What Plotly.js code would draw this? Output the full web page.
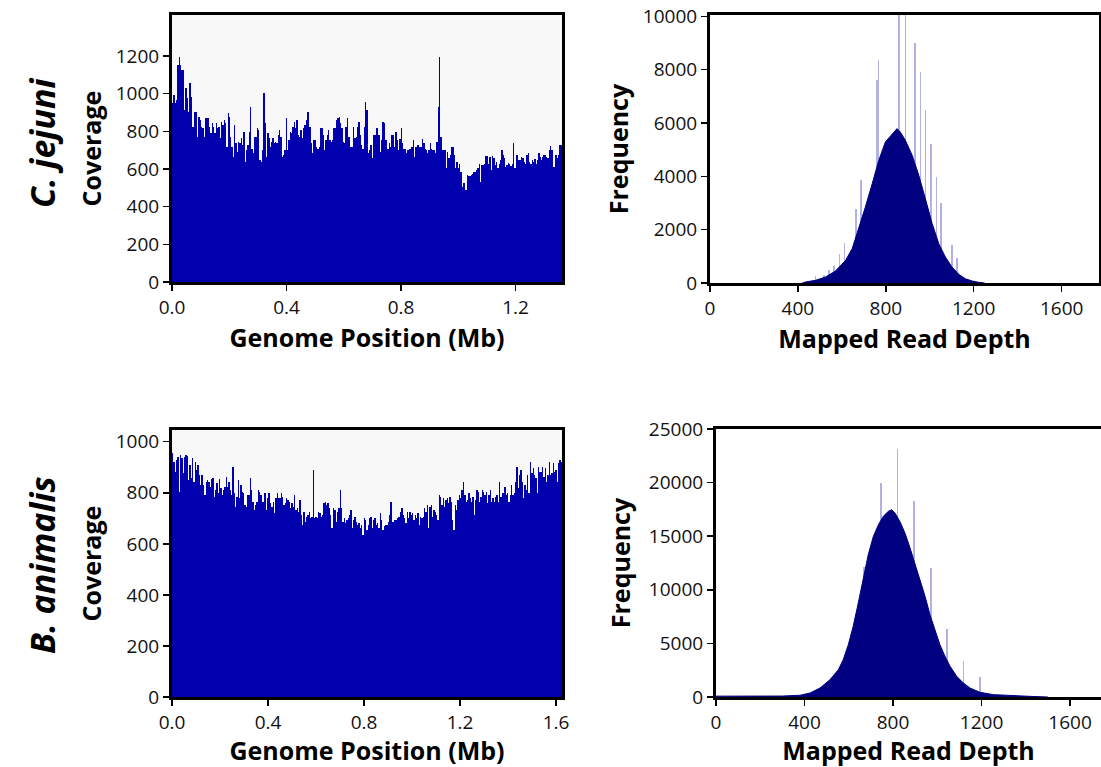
<!DOCTYPE html>
<html>
<head>
<meta charset="utf-8">
<script src="https://cdn.plot.ly/plotly-3.0.1.min.js"></script>
<style>html,body{margin:0;padding:0;background:#fff;}#chart{width:1101px;height:767px;}</style>
</head>
<body>
<div id="chart"></div>
<script>
// ---------- DATA ----------
// C. jejuni: per-window coverage along the genome (equal windows across genome length)
const cjGenomeMb = 1.362;
const cjCoverage = [
949,993,949,966,1153,1197,1153,1126,1126,913,1028,975,904,1055,984,825,825,904,904,771,878,860,825,816,771,869,869,869,825,789,842,825,789,842,816,825,763,851,833,860,842,718,895,878,771,718,665,833,736,692,745,736,763,727,798,638,700,727,798,931,709,683,771,771,816,807,647,638,700,1002,842,665,789,763,718,745,763,736,745,736,780,807,771,665,674,700,869,700,754,798,789,825,851,816,860,780,771,807,763,816,833,860,904,904,825,736,683,754,754,718,709,718,816,816,780,700,754,780,807,754,745,754,816,816,860,869,878,842,816,745,736,825,869,771,771,718,718,825,763,771,825,851,780,727,709,825,958,913,683,700,
727,656,780,780,816,816,780,692,754,851,842,754,754,709,736,718,780,780,718,798,754,700,757,816,736,709,709,683,700,709,709,718,754,665,718,727,727,718,718,757,736,709,700,683,700,740,704,700,700,683,745,931,1197,771,700,700,700,603,692,656,674,718,718,674,603,638,603,626,585,505,528,528,488,567,562,562,567,576,585,585,594,603,629,532,621,621,629,669,669,629,665,594,669,656,621,638,603,629,647,700,674,656,612,621,633,629,615,629,740,603,674,674,647,647,665,656,638,629,674,683,638,629,647,638,651,629,647,686,665,647,665,674,674,665,656,700,722,700,612,612,674,656,674,727,727
];
// C. jejuni: mapped read depth distribution (smooth body) and spike bins
const cjDepth = [420,435,480,526,571,617,647,677,707,738,768,798,829,851,866,889,920,950,980,1011,1041,1071,1101,1132,1162,1193,1223,1250];
const cjFreq  = [0,40,100,225,450,850,1290,2040,2850,3725,4600,5290,5600,5790,5660,5350,4790,4040,3160,2225,1475,975,600,325,160,75,25,0];
const cjSpikeDepth = [481,518,541,564,589,612,664,688,760,767,861,889,933,957,980,1005,1030,1052,1100,1124];
const cjSpikeFreq  = [250,300,475,640,1075,1490,2760,3850,7600,8375,10500,10500,9010,7910,6475,5200,3975,3000,1410,950];

// B. animalis
const baGenomeMb = 1.625;
const baCoverage = [
954,922,883,928,941,804,948,935,876,941,948,944,850,909,857,935,844,922,889,909,870,830,870,830,791,844,850,844,824,853,857,785,811,837,798,853,817,791,811,824,863,824,844,811,791,902,798,746,785,850,778,830,804,798,752,746,791,791,857,811,765,733,752,765,811,804,791,765,765,798,733,778,798,759,746,765,720,778,798,778,778,798,785,752,759,778,772,765,739,759,746,791,733,739,726,772,713,674,726,687,707,713,726,700,707,889,700,707,700,726,720,707,713,759,765,752,759,739,713,661,739,733,687,726,739,811,739,687,700,681,694,700,713,733,661,694,707,687,674,681,661,674,635,700,694,655,674,
700,707,661,694,700,674,681,661,720,694,655,668,674,674,687,713,765,687,687,694,694,700,707,726,739,713,700,681,726,700,726,713,720,694,713,700,720,674,707,700,707,739,726,752,661,746,752,707,733,726,713,694,791,785,752,778,746,772,778,759,785,765,694,655,752,733,772,791,778,811,844,791,765,772,798,778,765,785,713,772,811,804,765,785,811,804,791,804,759,791,811,765,778,765,785,791,765,844,785,798,798,824,791,798,765,791,830,791,798,844,902,817,870,889,844,778,830,811,870,798,922,876,896,870,857,798,902,883,883,902,863,896,844,870,922,870,876,915,883,889,844,915,928,922
];
const baDepth = [0,100,200,300,380,425,470,515,553,575,598,620,643,665,688,711,734,756,779,794,809,831,854,877,899,922,945,967,990,1012,1035,1058,1088,1118,1148,1193,1254,1330,1420,1500];
const baFreq  = [80,80,80,90,160,370,840,1615,2550,3480,4880,6590,8770,10940,13270,14980,16070,16850,17320,17470,17160,16380,15300,13900,12500,10940,9390,7680,6280,4880,3790,2860,1925,1305,840,435,220,125,60,0];
const baSpikeDepth = [594,669,745,821,896,971,1044,1119,1194];
const baSpikeFreq  = [4165,12120,19960,23100,18250,12030,6340,3330,1865];

const genomeTicks = [0, 0.4, 0.8, 1.2, 1.6];
const genomeTickText = ['0.0','0.4','0.8','1.2','1.6'];
const depthTicks = [0, 400, 800, 1200, 1600];

// ---------- STYLE ----------
const covColor = '#0000AE';
const distColor = '#000080';
const spikeColor = 'rgba(100,100,205,0.5)';
const tickFont = {family: 'Open Sans, sans-serif', size: 19, color: '#111'};
const titleFont = {family: 'Open Sans, sans-serif', size: 25, color: '#000', weight: 'bold'};
const W = 1101, H = 767;
const px = v => v / W, py = v => 1 - v / H;

function bins(values, lengthMb) {
  const w = lengthMb / values.length;
  return {x: values.map((_, i) => (i + 0.5) * w), w: w};
}
const cjB = bins(cjCoverage, cjGenomeMb);
const baB = bins(baCoverage, baGenomeMb);

const traces = [
  {type: 'bar', x: cjB.x, y: cjCoverage, width: cjB.w, xaxis: 'x', yaxis: 'y',
   marker: {color: covColor, line: {width: 0}}, hoverinfo: 'skip'},
  {type: 'bar', x: cjSpikeDepth, y: cjSpikeFreq, width: 7, xaxis: 'x2', yaxis: 'y2',
   marker: {color: spikeColor, line: {width: 0}}, hoverinfo: 'skip'},
  {type: 'scatter', mode: 'lines', x: cjDepth, y: cjFreq, fill: 'tozeroy', xaxis: 'x2', yaxis: 'y2',
   line: {color: distColor, width: 1}, fillcolor: distColor, hoverinfo: 'skip'},
  {type: 'bar', x: baB.x, y: baCoverage, width: baB.w, xaxis: 'x3', yaxis: 'y3',
   marker: {color: covColor, line: {width: 0}}, hoverinfo: 'skip'},
  {type: 'bar', x: baSpikeDepth, y: baSpikeFreq, width: 7, xaxis: 'x4', yaxis: 'y4',
   marker: {color: spikeColor, line: {width: 0}}, hoverinfo: 'skip'},
  {type: 'scatter', mode: 'lines', x: baDepth, y: baFreq, fill: 'tozeroy', xaxis: 'x4', yaxis: 'y4',
   line: {color: distColor, width: 1}, fillcolor: distColor, hoverinfo: 'skip'}
];

function ax(extra) {
  return Object.assign({
    showline: true, linewidth: 3, linecolor: '#000', mirror: true,
    showgrid: false, zeroline: false, ticks: 'outside', ticklen: 6, tickwidth: 1.5, tickcolor: '#000',
    tickfont: tickFont, tickformat: 'd', fixedrange: true
  }, extra);
}

const layout = {
  width: W, height: H,
  margin: {l: 0, r: 0, t: 0, b: 0},
  paper_bgcolor: '#fff', plot_bgcolor: '#fff',
  showlegend: false, bargap: 0, barmode: 'overlay',
  xaxis: ax({domain: [px(172), px(562)], range: [0, cjGenomeMb], tickvals: genomeTicks, ticktext: genomeTickText,
    anchor: 'y', title: {text: 'Genome Position (Mb)', font: titleFont, standoff: 6}}),
  yaxis: ax({domain: [py(282), py(15)], range: [0, 1418], tickvals: [0,200,400,600,800,1000,1200],
    anchor: 'x', title: {text: 'Coverage', font: titleFont, standoff: 7}}),
  xaxis2: ax({domain: [px(710), px(1099)], range: [0, 1770], tickvals: depthTicks,
    anchor: 'y2', title: {text: 'Mapped Read Depth', font: titleFont, standoff: 6}}),
  yaxis2: ax({domain: [py(283), py(15)], range: [0, 10050], tickvals: [0,2000,4000,6000,8000,10000],
    anchor: 'x2', title: {text: 'Frequency', font: titleFont, standoff: 8}}),
  xaxis3: ax({domain: [px(172), px(562)], range: [0, baGenomeMb], tickvals: genomeTicks, ticktext: genomeTickText,
    anchor: 'y3', title: {text: 'Genome Position (Mb)', font: titleFont, standoff: 4}}),
  yaxis3: ax({domain: [py(697), py(430)], range: [0, 1046], tickvals: [0,200,400,600,800,1000],
    anchor: 'x3', title: {text: 'Coverage', font: titleFont, standoff: 7}}),
  xaxis4: ax({domain: [px(716), 1], range: [0, 1740], tickvals: depthTicks,
    anchor: 'y4', title: {text: 'Mapped Read Depth', font: titleFont, standoff: 5}}),
  yaxis4: ax({domain: [py(697), py(429)], range: [0, 25000], tickvals: [0,5000,10000,15000,20000,25000],
    anchor: 'x4', mirror: false, title: {text: 'Frequency', font: titleFont, standoff: 12}}),
  shapes: [
    {type: 'rect', xref: 'x domain', yref: 'y domain', x0: 0, x1: 1, y0: 0, y1: 1,
     fillcolor: '#f8f8f8', line: {width: 0}, layer: 'below'},
    {type: 'rect', xref: 'x3 domain', yref: 'y3 domain', x0: 0, x1: 1, y0: 0, y1: 1,
     fillcolor: '#f8f8f8', line: {width: 0}, layer: 'below'}
  ],
  annotations: [
    {text: '<b><i>C. jejuni</i></b>', xref: 'paper', yref: 'paper', x: px(42), y: py(143),
     xanchor: 'center', yanchor: 'middle',
     textangle: -90, showarrow: false, font: {family: 'Open Sans, sans-serif', size: 34, color: '#000'}},
    {text: '<b><i>B. animalis</i></b>', xref: 'paper', yref: 'paper', x: px(42), y: py(565),
     xanchor: 'center', yanchor: 'middle',
     textangle: -90, showarrow: false, font: {family: 'Open Sans, sans-serif', size: 34, color: '#000'}}
  ]
};

Plotly.newPlot('chart', traces, layout, {displayModeBar: false, staticPlot: true});
</script>
</body>
</html>
